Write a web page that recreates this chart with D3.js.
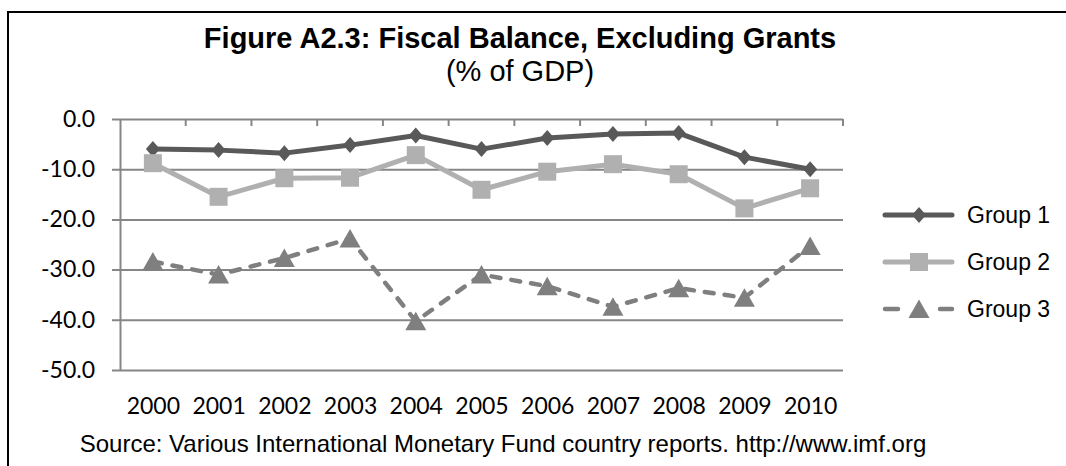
<!DOCTYPE html>
<html>
<head>
<meta charset="utf-8">
<script src="https://cdn.jsdelivr.net/npm/d3@7"></script>
<style>
  body { margin: 0; background: #fff; }
  svg { display: block; }
</style>
</head>
<body>
<svg id="chart" width="1066" height="466"></svg>
<script>
// Fiscal balance excluding grants, % of GDP
const years = ["2000", "2001", "2002", "2003", "2004", "2005", "2006", "2007", "2008", "2009", "2010"];
const group1 = [-6.0, -6.2, -6.8, -5.2, -3.3, -6.0, -3.8, -3.0, -2.8, -7.6, -10.0];
const group2 = [-8.8, -15.5, -11.8, -11.7, -7.2, -14.1, -10.5, -9.0, -11.0, -17.8, -13.8];
const group3 = [-28.4, -31.0, -27.7, -23.8, -40.3, -31.0, -33.3, -37.4, -33.7, -35.6, -25.3];
const seriesNames = ["Group 1", "Group 2", "Group 3"];
const yTickValues = [0, -10, -20, -30, -40, -50];
const yTickLabels = ["0.0", "-10.0", "-20.0", "-30.0", "-40.0", "-50.0"];

const titleText = "Figure A2.3: Fiscal Balance, Excluding Grants";
const subtitleText = "(% of GDP)";
const sourceText = "Source: Various International Monetary Fund country reports. http://www.imf.org";

const svg = d3.select("#chart");
const W = 1066, H = 466;
const plot = { left: 120, right: 843, top: 119, bottom: 370 };

const numFont = "Lato, 'Open Sans', sans-serif";
const arial = "'Liberation Sans', Arial, sans-serif";

// outer frame (only the top and left edges fall inside the view)
svg.append("path")
  .attr("d", `M8,${H + 5} L8,12 L${W + 5},12`)
  .attr("fill", "none")
  .attr("stroke", "#000")
  .attr("stroke-width", 2);

// titles
svg.append("text")
  .attr("x", 520).attr("y", 48)
  .attr("text-anchor", "middle")
  .style("font-family", arial).style("font-weight", "bold").style("font-size", "29px")
  .text(titleText);
svg.append("text")
  .attr("x", 520).attr("y", 81)
  .attr("text-anchor", "middle")
  .style("font-family", arial).style("font-size", "29px")
  .text(subtitleText);

// scales
const x = d3.scalePoint().domain(years).range([plot.left, plot.right]).padding(0.5);
const y = d3.scaleLinear().domain([-50, 0]).range([plot.bottom, plot.top]);
const step = x.step();

// value axis with gridlines
const yAxis = d3.axisLeft(y)
  .tickValues(yTickValues)
  .tickFormat((d, i) => yTickLabels[i])
  .tickSize(-(plot.right - plot.left))
  .tickSizeOuter(0)
  .tickPadding(25);
const yg = svg.append("g")
  .attr("transform", `translate(${plot.left},0)`)
  .call(yAxis);
yg.select(".domain").attr("stroke", "#868686").attr("stroke-width", 2);
yg.selectAll(".tick line")
  .attr("x1", -8)
  .attr("x2", plot.right - plot.left)
  .attr("stroke", "#868686")
  .attr("stroke-width", 2);
yg.selectAll(".tick text")
  .style("font-family", numFont).style("font-size", "23px").attr("fill", "#000");

// category axis crossing at zero: tick marks between categories
const xBoundaries = d3.range(1, years.length + 1).map(i => plot.left + i * step);
svg.append("g").selectAll("line")
  .data(xBoundaries)
  .join("line")
  .attr("x1", d => d).attr("x2", d => d)
  .attr("y1", y(0)).attr("y2", y(0) + 7)
  .attr("stroke", "#868686").attr("stroke-width", 2);

// category labels below the plot
const xAxis = d3.axisBottom(x).tickSize(0).tickPadding(28);
const xg = svg.append("g")
  .attr("transform", `translate(0,${plot.bottom})`)
  .call(xAxis);
xg.select(".domain").remove();
xg.selectAll(".tick text")
  .style("font-family", numFont).style("font-size", "23px").attr("fill", "#000");

// series
const series = [
  { name: seriesNames[0], values: group1, color: "#595959", width: 5, dash: null, marker: "diamond" },
  { name: seriesNames[1], values: group2, color: "#b0b0b0", width: 5, dash: null, marker: "square" },
  { name: seriesNames[2], values: group3, color: "#7f7f7f", width: 4.5, dash: "9,11", marker: "triangle" }
];

const markerPath = {
  diamond: "M0,-8 L7,0 L0,8 L-7,0 Z",
  square: "M-9,-9 L9,-9 L9,9 L-9,9 Z",
  triangle: "M0,-9.5 L10.5,9 L-10.5,9 Z"
};

const line = d3.line()
  .x((d, i) => x(years[i]))
  .y(d => y(d));

series.forEach(s => {
  const g = svg.append("g");
  g.append("path")
    .datum(s.values)
    .attr("d", line)
    .attr("fill", "none")
    .attr("stroke", s.color)
    .attr("stroke-width", s.width)
    .attr("stroke-linejoin", "round")
    .attr("stroke-linecap", "round")
    .attr("stroke-dasharray", s.dash);
  g.selectAll("path.mk")
    .data(s.values)
    .join("path")
    .attr("class", "mk")
    .attr("d", markerPath[s.marker])
    .attr("transform", (d, i) => `translate(${x(years[i])},${y(d)})`)
    .attr("fill", s.color);
});

// legend
const legendY = [215, 262, 309];
const lg = svg.append("g");
series.forEach((s, i) => {
  const row = lg.append("g").attr("transform", `translate(0,${legendY[i]})`);
  if (s.dash) {
    row.append("line").attr("x1", 885).attr("x2", 898).attr("y1", 0).attr("y2", 0)
      .attr("stroke", s.color).attr("stroke-width", s.width).attr("stroke-linecap", "round");
    row.append("line").attr("x1", 940).attr("x2", 952).attr("y1", 0).attr("y2", 0)
      .attr("stroke", s.color).attr("stroke-width", s.width).attr("stroke-linecap", "round");
  } else {
    row.append("line").attr("x1", 885).attr("x2", 952).attr("y1", 0).attr("y2", 0)
      .attr("stroke", s.color).attr("stroke-width", s.width).attr("stroke-linecap", "round");
  }
  row.append("path")
    .attr("d", markerPath[s.marker])
    .attr("transform", "translate(919,0)")
    .attr("fill", s.color);
  row.append("text")
    .attr("x", 967).attr("y", 0).attr("dy", "0.36em")
    .style("font-family", arial).style("font-size", "23px")
    .text(s.name);
});

// source note
svg.append("text")
  .attr("x", 503).attr("y", 452)
  .attr("text-anchor", "middle")
  .style("font-family", arial).style("font-size", "24px")
  .text(sourceText);
</script>
</body>
</html>
